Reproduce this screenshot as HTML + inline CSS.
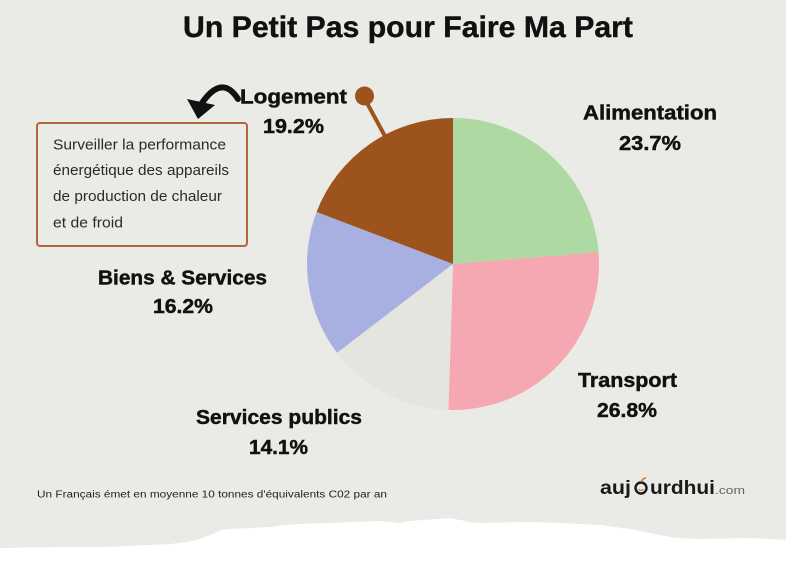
<!DOCTYPE html>
<html>
<head>
<meta charset="utf-8">
<style>
  html, body { margin:0; padding:0; width:786px; height:563px; overflow:hidden; background:#eaebe6; }
  svg { display:block; }
  .lbl { font-family:"Liberation Sans", Arial, sans-serif; font-weight:bold; font-size:20px; fill:#111; stroke:#111; stroke-width:0.45; }
  .box { font-family:"Liberation Sans", Arial, sans-serif; font-size:15px; fill:#2a2a2a; }
</style>
</head>
<body>
<svg width="786" height="563" viewBox="0 0 786 563" xmlns="http://www.w3.org/2000/svg">
  <rect x="0" y="0" width="786" height="563" fill="#eaebe6"/>

  <!-- Title -->
  <text x="183" y="37" font-family="Liberation Sans, Arial, sans-serif" font-weight="bold" font-size="30" fill="#111" stroke="#111" stroke-width="0.4" textLength="450" lengthAdjust="spacingAndGlyphs">Un Petit Pas pour Faire Ma Part</text>

  <!-- Pie -->
  <path d="M453 264 L453 118 A146 146 0 0 1 598.51 252.09 Z" fill="#aed9a3"/>
  <path d="M453 264 L598.51 252.09 A146 146 0 0 1 448.41 409.93 Z" fill="#f5a8b1"/>
  <path d="M453 264 L448.41 409.93 A146 146 0 0 1 337.08 352.76 Z" fill="#e4e5df"/>
  <path d="M453 264 L337.08 352.76 A146 146 0 0 1 316.59 211.96 Z" fill="#a8b0e2"/>
  <path d="M453 264 L316.59 211.96 A146 146 0 0 1 453 118 Z" fill="#9c541c"/>

  <!-- Lollipop pointer -->
  <line x1="367" y1="103" x2="386" y2="138" stroke="#9c541c" stroke-width="4"/>
  <circle cx="364.5" cy="96" r="9.5" fill="#9c541c"/>

  <!-- Curved arrow -->
  <path d="M238 99 Q222 74 202 103" fill="none" stroke="#111" stroke-width="6" stroke-linecap="round"/>
  <polygon points="187,99 198,119 215,105" fill="#111"/>

  <!-- Labels -->
  <text class="lbl" x="240" y="103.5" textLength="107" lengthAdjust="spacingAndGlyphs">Logement</text>
  <text class="lbl" x="263" y="133" textLength="61" lengthAdjust="spacingAndGlyphs">19.2%</text>

  <text class="lbl" x="583" y="119.5" textLength="134" lengthAdjust="spacingAndGlyphs">Alimentation</text>
  <text class="lbl" x="619" y="150" textLength="62" lengthAdjust="spacingAndGlyphs">23.7%</text>

  <text class="lbl" x="98" y="284.5" textLength="169" lengthAdjust="spacingAndGlyphs">Biens &amp; Services</text>
  <text class="lbl" x="153" y="313" textLength="60" lengthAdjust="spacingAndGlyphs">16.2%</text>

  <text class="lbl" x="578" y="387" textLength="99" lengthAdjust="spacingAndGlyphs">Transport</text>
  <text class="lbl" x="597" y="417" textLength="60" lengthAdjust="spacingAndGlyphs">26.8%</text>

  <text class="lbl" x="196" y="424" textLength="166" lengthAdjust="spacingAndGlyphs">Services publics</text>
  <text class="lbl" x="249" y="454" textLength="59" lengthAdjust="spacingAndGlyphs">14.1%</text>

  <!-- Annotation box -->
  <rect x="37" y="123" width="210" height="123" rx="3" ry="3" fill="none" stroke="#b2643a" stroke-width="2"/>
  <text class="box" x="53" y="149.5" textLength="173" lengthAdjust="spacingAndGlyphs">Surveiller la performance</text>
  <text class="box" x="53" y="175" textLength="176" lengthAdjust="spacingAndGlyphs">énergétique des appareils</text>
  <text class="box" x="53" y="201" textLength="169" lengthAdjust="spacingAndGlyphs">de production de chaleur</text>
  <text class="box" x="53" y="227.5" textLength="70" lengthAdjust="spacingAndGlyphs">et de froid</text>

  <!-- Footer note -->
  <text x="37" y="497.5" font-family="Liberation Sans, Arial, sans-serif" font-size="10" fill="#222" textLength="350" lengthAdjust="spacingAndGlyphs">Un Français émet en moyenne 10 tonnes d'équivalents C02 par an</text>

  <!-- Logo -->
  <text x="600" y="494" font-family="Liberation Sans, Arial, sans-serif" font-weight="bold" font-size="19" fill="#1a1a1a" textLength="31" lengthAdjust="spacingAndGlyphs">auj</text>
  <circle cx="641" cy="488" r="5.5" fill="none" stroke="#1a1a1a" stroke-width="2.4"/>
  <path d="M638.5 489 Q641 492 643.5 489" fill="none" stroke="#c8732a" stroke-width="1.2"/>
  <path d="M641 482 Q643 478 646 478" fill="none" stroke="#c8732a" stroke-width="1.5"/>
  <text x="650" y="494" font-family="Liberation Sans, Arial, sans-serif" font-weight="bold" font-size="19" fill="#1a1a1a" textLength="65" lengthAdjust="spacingAndGlyphs">urdhui</text>
  <text x="715" y="494" font-family="Liberation Sans, Arial, sans-serif" font-size="11" fill="#666" textLength="30" lengthAdjust="spacingAndGlyphs">.com</text>

  <!-- Torn paper bottom -->
  <polygon fill="#ffffff" points="0,548 30,547.5 60,547 100,547 130,546 150,545 170,544 180,543 192,541 200,539 208,536 215,533 222,530 230,529 250,528 270,527 285,525 300,524 315,523.5 330,523 355,522 380,521 392,522 400,523 405,522 410,521 430,519.5 450,518 460,520 470,522 480,523 500,522.5 530,522 545,522.5 560,523 580,524 600,525 615,527 630,529 640,531 650,533 660,535 670,537 685,538.5 700,539 725,538.5 750,538 770,539 786,540 786,563 0,563"/>
</svg>
</body>
</html>
